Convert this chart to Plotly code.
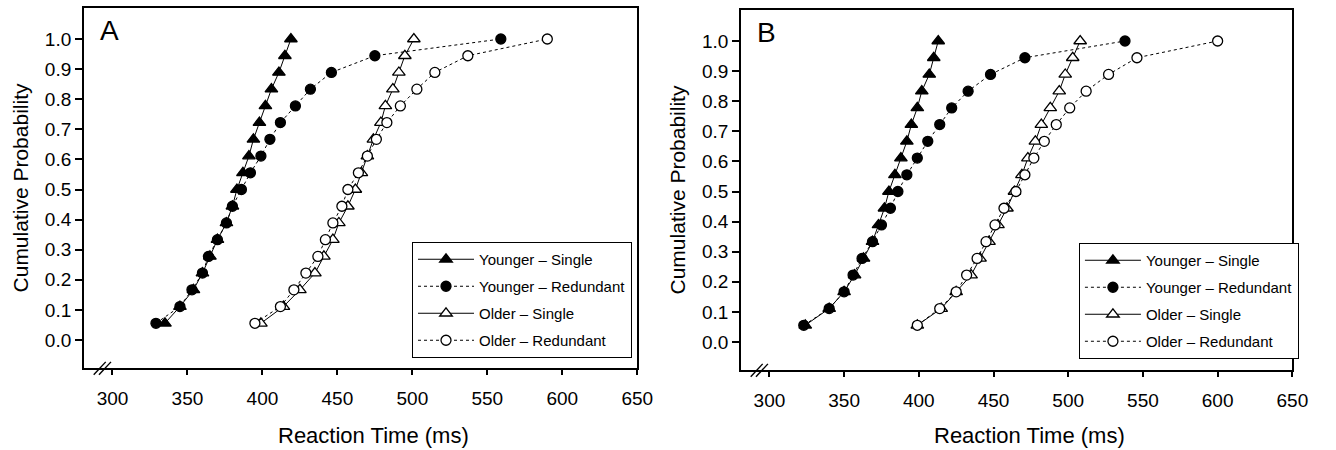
import plotly.graph_objects as go

# Cumulative probability levels (18 quantiles)
prob = [k / 18 for k in range(1, 19)]

# Panel A reaction times (ms)
a_young_single = [335, 345, 354, 360, 365, 370, 376, 380, 383, 387, 391, 394, 398, 402, 406, 411, 415, 419]
a_young_redund = [329, 345, 353, 360, 364, 370, 376, 380, 386, 392, 399, 405, 412, 422, 432, 446, 475, 559]
a_old_single = [399, 414, 425, 435, 441, 447, 451, 457, 462, 466, 470, 474, 479, 482, 487, 491, 495, 501]
a_old_redund = [395, 412, 421, 429, 437, 442, 447, 453, 457, 464, 470, 476, 483, 492, 503, 515, 537, 590]

# Panel B reaction times (ms)
b_young_single = [324, 340, 350, 357, 363, 369, 373, 377, 380, 384, 388, 392, 395, 399, 402, 407, 410, 413]
b_young_redund = [323, 340, 350, 356, 362, 369, 375, 381, 386, 392, 399, 406, 414, 422, 433, 448, 471, 538]
b_old_single = [399, 415, 425, 435, 441, 447, 453, 459, 464, 469, 473, 478, 482, 488, 494, 498, 503, 508]
b_old_redund = [399, 414, 425, 432, 439, 445, 451, 457, 465, 471, 477, 484, 492, 501, 512, 527, 546, 600]

series_names = ["Younger – Single", "Younger – Redundant", "Older – Single", "Older – Redundant"]
panel_labels = ["A", "B"]
x_title = "Reaction Time (ms)"
y_title = "Cumulative Probability"
x_ticks = [300, 350, 400, 450, 500, 550, 600, 650]
y_ticks = [0.0, 0.1, 0.2, 0.3, 0.4, 0.5, 0.6, 0.7, 0.8, 0.9, 1.0]

FONT = "Arial, Liberation Sans, sans-serif"
W, H = 1336, 450

styles = [
    dict(symbol="triangle-up", color="black", size=11, dash="solid"),
    dict(symbol="circle", color="black", size=10, dash="3px,3px"),
    dict(symbol="triangle-up", color="white", size=11, dash="solid"),
    dict(symbol="circle", color="white", size=10, dash="3px,3px"),
]

fig = go.Figure()
panels = [
    ("x", "y", "legend", [a_young_single, a_young_redund, a_old_single, a_old_redund]),
    ("x2", "y2", "legend2", [b_young_single, b_young_redund, b_old_single, b_old_redund]),
]
for pi, (xa, ya, lg, data) in enumerate(panels):
    for si, (name, xs, st) in enumerate(zip(series_names, data, styles)):
        fig.add_trace(go.Scatter(
            x=xs, y=prob, mode="lines+markers", name=name,
            xaxis=xa, yaxis=ya, legend=lg, legendgroup=f"p{pi}s{si}",
            line=dict(color="black", width=1, dash=st["dash"]),
            marker=dict(symbol=st["symbol"], size=st["size"], color=st["color"],
                        line=dict(color="black", width=1.3)),
        ))

def px_x(p):
    return p / W

def px_y(p):
    return (H - p) / H

axis_common = dict(
    showline=True, linecolor="black", linewidth=1.8, mirror=True,
    ticks="outside", tickwidth=1.5, tickcolor="black",
    showgrid=False, zeroline=False,
    tickfont=dict(family=FONT, size=19, color="black"),
)
xcommon = dict(range=[281, 650], tickvals=x_ticks, ticklen=5, ticklabelstandoff=7,
               **axis_common)
ycommon = dict(range=[-0.093, 1.103], tickvals=y_ticks, tickformat=".1f", ticklen=7,
               title=dict(text=y_title, font=dict(size=21), standoff=11),
               **axis_common)
legend_common = dict(xanchor="left", yanchor="top",
                     bordercolor="black", borderwidth=1, bgcolor="white",
                     font=dict(family=FONT, size=15, color="black"),
                     tracegroupgap=4.5, itemwidth=56)

fig.update_layout(
    width=W, height=H,
    margin=dict(l=0, r=0, t=0, b=0),
    paper_bgcolor="white", plot_bgcolor="white",
    font=dict(family=FONT, color="black"),
    showlegend=True,
    xaxis=dict(domain=[px_x(85), px_x(645)], anchor="y", **xcommon),
    yaxis=dict(domain=[px_y(368), px_y(8)], anchor="x", **ycommon),
    xaxis2=dict(domain=[px_x(750), px_x(1308)], anchor="y2", **xcommon),
    yaxis2=dict(domain=[px_y(370), px_y(10)], anchor="x2", **ycommon),
    legend=dict(x=px_x(417), y=px_y(242), **legend_common),
    legend2=dict(x=px_x(1092), y=px_y(243), **legend_common),
)

# x-axis titles (slightly right of panel centre, as in the original)
for xr in ["x", "x2"]:
    fig.add_annotation(text=x_title, xref=xr, yref="paper", x=474, y=px_y(435),
                       xanchor="center", yanchor="middle", showarrow=False,
                       font=dict(family=FONT, size=22, color="black"))

# Panel letters
for lab, xr, yr in zip(panel_labels, ["x domain", "x2 domain"], ["y domain", "y2 domain"]):
    fig.add_annotation(text=lab, xref=xr, yref=yr, x=0.025, y=0.985,
                       xanchor="left", yanchor="top", showarrow=False,
                       font=dict(family=FONT, size=28, color="black"))

# Axis break marks "//"
for xr, yr in [("x", "y domain"), ("x2", "y2 domain")]:
    for x0 in [287.5, 291.0]:
        fig.add_shape(type="line", xref=xr, yref=yr, x0=x0, x1=x0 + 8,
                      y0=-0.019, y1=0.017, line=dict(color="black", width=1.4))

fig.write_html("out.html", config={"displayModeBar": False},
               post_script="document.body.style.margin='0';")
